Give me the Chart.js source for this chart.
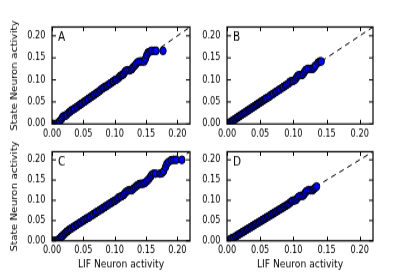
<!DOCTYPE html>
<html>
<head>
<meta charset="utf-8">
<script src="https://cdn.jsdelivr.net/npm/chart.js@4/dist/chart.umd.min.js"></script>
<style>
  body { margin: 0; background: #fff; overflow: hidden; }
  #fig { position: relative; width: 415px; height: 277px; }
  #fig canvas { position: absolute; }
</style>
</head>
<body>
<div id="fig">
  <canvas id="panel-a"></canvas>
  <canvas id="panel-b"></canvas>
  <canvas id="panel-c"></canvas>
  <canvas id="panel-d"></canvas>
</div>
<script>
const tickValues = [0, 0.05, 0.10, 0.15, 0.20];
const axisMin = 0;
const axisMax = 0.22;
const identity = [0, 0.22];
const xTitle = 'LIF Neuron activity';
const yTitle = 'State Neuron activity';

// panel A
const lifA = [0.000,0.003,0.006,0.009,0.012,0.015,0.017,0.019,0.022,0.024,0.027,0.029,0.031,0.034,0.036,0.039,0.041,0.044,0.046,0.048,0.051,0.053,0.056,0.058,0.061,0.063,0.066,0.068,0.071,0.073,0.076,0.078,0.081,0.083,0.086,0.088,0.091,0.093,0.096,0.098,0.101,0.103,0.106,0.108,0.110,0.112,0.114,0.116,0.118,0.121,0.124,0.127,0.129,0.131,0.133,0.135,0.138,0.141,0.144,0.147,0.149,0.151,0.153,0.156,0.159,0.163,0.166,0.177];
const stateA = [0.000,0.000,0.000,0.001,0.006,0.011,0.016,0.018,0.019,0.022,0.026,0.028,0.031,0.033,0.035,0.038,0.040,0.043,0.045,0.047,0.050,0.052,0.055,0.057,0.060,0.062,0.065,0.067,0.070,0.072,0.075,0.078,0.081,0.083,0.085,0.087,0.090,0.092,0.095,0.097,0.100,0.101,0.104,0.108,0.110,0.111,0.113,0.118,0.121,0.122,0.122,0.124,0.128,0.131,0.134,0.138,0.141,0.142,0.142,0.142,0.148,0.156,0.162,0.164,0.166,0.166,0.166,0.166];

// panel B
const lifB = [0.002,0.004,0.006,0.008,0.010,0.012,0.014,0.016,0.018,0.020,0.022,0.024,0.026,0.028,0.030,0.032,0.034,0.036,0.038,0.040,0.042,0.044,0.046,0.048,0.050,0.052,0.054,0.056,0.058,0.060,0.063,0.065,0.068,0.070,0.073,0.075,0.078,0.080,0.083,0.085,0.088,0.090,0.093,0.095,0.098,0.100,0.103,0.105,0.107,0.110,0.113,0.115,0.117,0.119,0.122,0.126,0.129,0.131,0.133,0.137,0.140,0.142];
const stateB = [0.001,0.003,0.005,0.007,0.009,0.011,0.013,0.015,0.017,0.019,0.021,0.023,0.025,0.027,0.029,0.031,0.033,0.035,0.037,0.039,0.041,0.043,0.045,0.047,0.049,0.051,0.053,0.055,0.057,0.059,0.061,0.064,0.067,0.069,0.072,0.074,0.077,0.079,0.082,0.084,0.087,0.089,0.092,0.096,0.097,0.098,0.101,0.106,0.110,0.111,0.111,0.114,0.119,0.123,0.125,0.125,0.125,0.128,0.132,0.139,0.142,0.142];

// panel C
const lifC = [0.000,0.004,0.008,0.011,0.013,0.015,0.017,0.019,0.021,0.023,0.025,0.027,0.029,0.031,0.034,0.036,0.039,0.041,0.044,0.046,0.049,0.051,0.054,0.056,0.059,0.061,0.064,0.066,0.069,0.071,0.074,0.076,0.079,0.081,0.084,0.086,0.089,0.091,0.094,0.096,0.099,0.101,0.104,0.106,0.109,0.111,0.114,0.116,0.118,0.121,0.124,0.127,0.130,0.133,0.136,0.139,0.142,0.145,0.148,0.151,0.154,0.157,0.159,0.162,0.165,0.172,0.175,0.178,0.181,0.183,0.186,0.190,0.194,0.198,0.207];
const stateC = [0.000,0.000,0.001,0.004,0.007,0.010,0.013,0.016,0.019,0.022,0.024,0.027,0.029,0.031,0.034,0.036,0.039,0.041,0.044,0.046,0.049,0.051,0.054,0.056,0.058,0.061,0.063,0.066,0.068,0.071,0.073,0.076,0.078,0.081,0.083,0.086,0.088,0.091,0.093,0.096,0.098,0.100,0.103,0.107,0.109,0.110,0.113,0.117,0.121,0.124,0.125,0.125,0.129,0.133,0.137,0.140,0.141,0.141,0.143,0.147,0.152,0.158,0.163,0.166,0.166,0.166,0.167,0.172,0.182,0.190,0.195,0.199,0.200,0.200,0.200];

// panel D
const lifD = [0.001,0.003,0.005,0.007,0.010,0.013,0.015,0.017,0.019,0.021,0.023,0.025,0.027,0.029,0.031,0.033,0.035,0.037,0.039,0.041,0.043,0.045,0.047,0.049,0.051,0.053,0.055,0.057,0.059,0.061,0.063,0.065,0.067,0.069,0.071,0.073,0.075,0.077,0.079,0.081,0.083,0.085,0.087,0.089,0.091,0.093,0.095,0.097,0.099,0.102,0.104,0.106,0.108,0.111,0.114,0.116,0.118,0.120,0.123,0.126,0.129,0.131,0.133,0.135];
const stateD = [0.000,0.002,0.004,0.006,0.008,0.011,0.013,0.015,0.017,0.019,0.021,0.023,0.025,0.027,0.029,0.031,0.033,0.035,0.037,0.039,0.041,0.043,0.045,0.047,0.049,0.051,0.053,0.055,0.057,0.059,0.061,0.063,0.065,0.067,0.069,0.071,0.073,0.075,0.077,0.079,0.081,0.083,0.085,0.087,0.089,0.091,0.094,0.097,0.099,0.100,0.101,0.105,0.109,0.111,0.111,0.114,0.119,0.123,0.125,0.125,0.125,0.128,0.131,0.134];

const fontFamily = '"DejaVu Sans", sans-serif';
// the reference figure is stretched vertically; each canvas is drawn short and shown taller
const stretchY = 1.2;

// inward ticks on all four sides, the box and the panel letter (matplotlib look)
const frameAndTicks = {
    id: 'frameAndTicks',
    afterDatasetsDraw(chart, args, opts) {
        const { ctx, chartArea: a, scales: { x, y } } = chart;
        ctx.save();
        ctx.strokeStyle = '#000';
        ctx.lineWidth = 1;
        ctx.beginPath();
        tickValues.forEach(v => {
            const px = Math.round(x.getPixelForValue(v)) + 0.5;
            ctx.moveTo(px, a.bottom); ctx.lineTo(px, a.bottom - 3.5);
            ctx.moveTo(px, a.top); ctx.lineTo(px, a.top + 3.5);
            const py = y.getPixelForValue(v);
            ctx.moveTo(a.left, py); ctx.lineTo(a.left + 4, py);
            ctx.moveTo(a.right, py); ctx.lineTo(a.right - 4, py);
        });
        ctx.stroke();
        ctx.lineWidth = 1.2;
        ctx.strokeRect(a.left, a.top, a.right - a.left, a.bottom - a.top);
        ctx.fillStyle = '#000';
        ctx.font = '10.5px ' + fontFamily;
        ctx.textBaseline = 'top';
        ctx.fillText(opts.letter, a.left + 6, a.top + 3.5);
        ctx.restore();
    }
};

const panels = [
    { id: 'panel-a', letter: 'A', lif: lifA, state: stateA, left: 0, top: 0, w: 195, h: 115, yW: 52, xH: 11.7, padTop: 22.5, padRight: 0, showY: true, showX: false },
    { id: 'panel-b', letter: 'B', lif: lifB, state: stateB, left: 195, top: 0, w: 220, h: 115, yW: 32, xH: 11.7, padTop: 22.5, padRight: 42, showY: false, showX: false },
    { id: 'panel-c', letter: 'C', lif: lifC, state: stateC, left: 0, top: 115, w: 195, h: 116, yW: 52, xH: 30.2, padTop: 5, padRight: 0, showY: true, showX: true },
    { id: 'panel-d', letter: 'D', lif: lifD, state: stateD, left: 195, top: 115, w: 220, h: 116, yW: 32, xH: 30.2, padTop: 5, padRight: 42, showY: false, showX: true }
];

const fixedTicks = scale => { scale.ticks = tickValues.map(v => ({ value: v })); };
const noGrid = { display: false, drawTicks: false, tickLength: 0 };

panels.forEach(p => {
    const canvas = document.getElementById(p.id);
    canvas.width = p.w;
    canvas.height = p.h;
    canvas.style.left = p.left + 'px';
    canvas.style.top = (p.top * stretchY) + 'px';
    canvas.style.width = p.w + 'px';
    canvas.style.height = (p.h * stretchY) + 'px';

    new Chart(canvas, {
        data: {
            datasets: [
                {
                    type: 'scatter',
                    data: p.lif.map((v, i) => ({ x: v, y: p.state[i] })),
                    pointRadius: 3.2,
                    pointBackgroundColor: '#0000ff',
                    pointBorderColor: '#000',
                    pointBorderWidth: 1,
                    clip: 0,
                    order: 1
                },
                {
                    type: 'line',
                    data: identity.map(v => ({ x: v, y: v })),
                    borderColor: '#000',
                    borderWidth: 1,
                    borderDash: [5, 4],
                    pointRadius: 0,
                    order: 2
                }
            ]
        },
        options: {
            responsive: false,
            animation: false,
            devicePixelRatio: 1,
            layout: { padding: { top: p.padTop, right: p.padRight, left: 0, bottom: 0 } },
            plugins: {
                legend: { display: false },
                tooltip: { enabled: false },
                frameAndTicks: { letter: p.letter }
            },
            scales: {
                x: {
                    type: 'linear',
                    min: axisMin,
                    max: axisMax,
                    afterBuildTicks: fixedTicks,
                    afterFit: s => { s.height = p.xH; },
                    grid: noGrid,
                    border: { display: false },
                    ticks: {
                        padding: 3.5,
                        maxRotation: 0,
                        color: '#000',
                        font: { family: fontFamily, size: 8.2 },
                        callback: v => v.toFixed(2)
                    },
                    title: {
                        display: p.showX,
                        text: xTitle,
                        color: '#000',
                        padding: { top: 0, bottom: 5 },
                        font: { family: fontFamily, size: 9.2 }
                    }
                },
                y: {
                    type: 'linear',
                    min: axisMin,
                    max: axisMax,
                    afterBuildTicks: fixedTicks,
                    afterFit: s => { s.width = p.yW; },
                    grid: noGrid,
                    border: { display: false },
                    ticks: {
                        padding: 6.5,
                        color: '#000',
                        font: { family: fontFamily, size: 8.2 },
                        callback: v => v.toFixed(2)
                    },
                    title: {
                        display: p.showY,
                        text: yTitle,
                        color: '#000',
                        padding: { top: 10, bottom: 0 },
                        font: { family: fontFamily, size: 8.7 }
                    }
                }
            }
        },
        plugins: [frameAndTicks]
    });
});
</script>
</body>
</html>
